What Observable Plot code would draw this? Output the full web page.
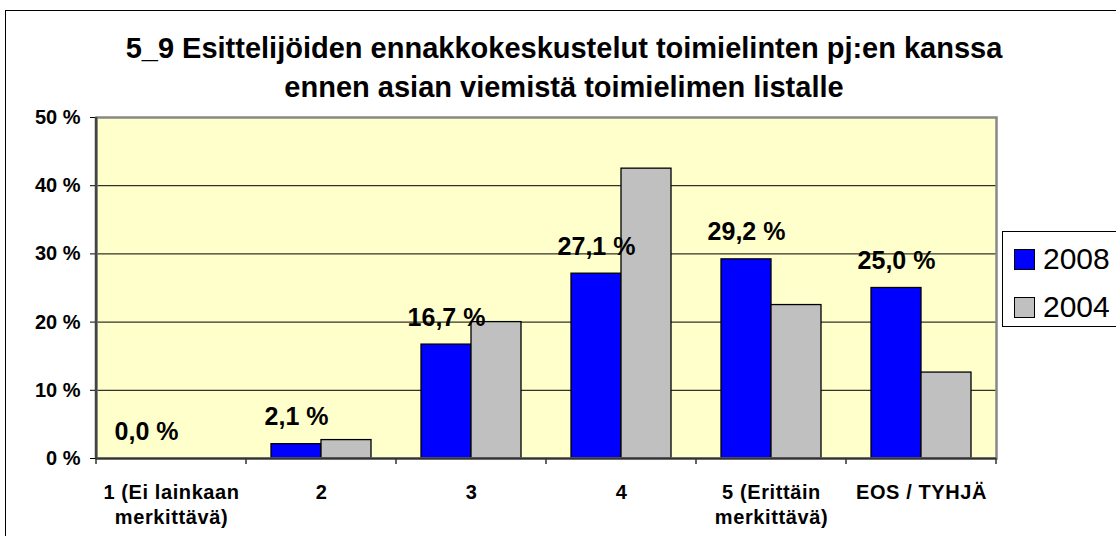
<!DOCTYPE html>
<html><head><meta charset="utf-8">
<script src="https://cdn.jsdelivr.net/npm/d3@7"></script>
<script src="https://cdn.jsdelivr.net/npm/@observablehq/plot@0.6"></script>
<style>
html,body{margin:0;padding:0;background:#fff;overflow:hidden;width:1116px;height:536px;position:relative;font-family:"Liberation Sans",Arial,sans-serif;}
#border{position:absolute;left:5px;top:10px;width:1200px;height:700px;border:1px solid #000;box-sizing:border-box;}
#title{position:absolute;left:0;top:29px;width:1128px;text-align:center;font-weight:bold;font-size:29px;line-height:39px;color:#000;white-space:nowrap;}
#plot{position:absolute;left:0;top:100px;}
#plot svg g[aria-label="fx-axis tick label"] text{letter-spacing:0.6px;}
#legend{position:absolute;left:1002px;top:231px;width:200px;height:96px;border:1px solid #000;background:#fff;box-sizing:border-box;}
.item{position:absolute;left:11px;height:30px;display:flex;align-items:center;font-size:30px;color:#000;}
.sw{width:21px;height:21px;border:1px solid #000;margin-right:8px;box-sizing:border-box;}
</style></head><body>
<div id="border"></div>
<div id="title">5_9 Esittelijöiden ennakkokeskustelut toimielinten pj:en kanssa<br>ennen asian viemistä toimielimen listalle</div>
<div id="plot"></div>
<div id="legend"></div>
<script>
const categories = ["1 (Ei lainkaan\nmerkittävä)", "2", "3", "4", "5 (Erittäin\nmerkittävä)", "EOS / TYHJÄ"];
const years = ["2008", "2004"];
const values2008 = [0.0, 2.1, 16.7, 27.1, 29.2, 25.0];
const values2004 = [0.0, 2.7, 20.0, 42.5, 22.5, 12.6];
const yTicks = [0, 10, 20, 30, 40, 50];
const colors = ["#0000ff", "#c0c0c0"];

const rows = categories.flatMap((c, i) => [
  {category: c, year: years[0], value: values2008[i]},
  {category: c, year: years[1], value: values2004[i]}
]);
const fmt = v => v.toFixed(1).replace(".", ",") + " %";

const chart = Plot.plot({
  width: 1116, height: 436,
  marginLeft: 94, marginRight: 119, marginTop: 17, marginBottom: 78,
  style: {fontFamily: "'Liberation Sans', Arial, sans-serif", background: "transparent", color: "#000"},
  fx: {domain: categories, padding: 0, label: null},
  x: {domain: years, paddingInner: 0, paddingOuter: 0.475, axis: null},
  y: {domain: [0, 50], label: null},
  color: {domain: years, range: colors},
  marks: [
    Plot.frame({fill: "#ffffcc", facet: "super"}),
    Plot.ruleY(yTicks.slice(1, -1), {stroke: "#000", strokeWidth: 1}),
    Plot.barY(rows.filter(d => d.value > 0), {fx: "category", x: "year", y: "value", fill: "year", stroke: "#000", strokeWidth: 1.3}),
    Plot.text(rows.filter(d => d.year === years[0]), {fx: "category", x: "year", y: "value", text: d => fmt(d.value), dy: -27, fontSize: 25, fontWeight: "bold", fill: "#000"}),
    Plot.frame({stroke: "#888", strokeWidth: 2.5, facet: "super"}),
    Plot.ruleY([0], {stroke: "#333", strokeWidth: 2}),
    Plot.axisY({ticks: yTicks, tickFormat: d => d + " %", tickSize: 6, tickPadding: 10, fontSize: 20, fontWeight: "bold", label: null}),
    Plot.axisFx({anchor: "bottom", tickSize: 0, tickPadding: 23, fontSize: 20, fontWeight: "bold", lineHeight: 1.25, label: null})
  ]
});
document.getElementById("plot").appendChild(chart);

// left axis line and category boundary ticks, from the chart's own scales
const fxs = chart.scale("fx");
const ys = chart.scale("y");
const y0 = ys.apply(0), yTop = ys.apply(50);
const starts = categories.map(c => fxs.apply(c));
const bounds = starts.concat([starts[starts.length - 1] + fxs.bandwidth]);
const g = d3.select(chart).append("g");
g.append("line").attr("x1", bounds[0]).attr("x2", bounds[0]).attr("y1", yTop).attr("y2", y0)
  .attr("stroke", "#444").attr("stroke-width", 2.5);
g.selectAll("line.bt").data(bounds).join("line").attr("class", "bt")
  .attr("x1", d => d).attr("x2", d => d).attr("y1", y0).attr("y2", y0 + 6)
  .attr("stroke", "#333").attr("stroke-width", 1.5);

// legend
const color = chart.scale("color");
const leg = d3.select("#legend");
color.domain.forEach((yr, i) => {
  const it = leg.append("div").attr("class", "item").style("top", (i === 0 ? 12 : 60) + "px");
  it.append("div").attr("class", "sw").style("background", color.range[i]);
  it.append("span").text(yr);
});
</script>
</body></html>
